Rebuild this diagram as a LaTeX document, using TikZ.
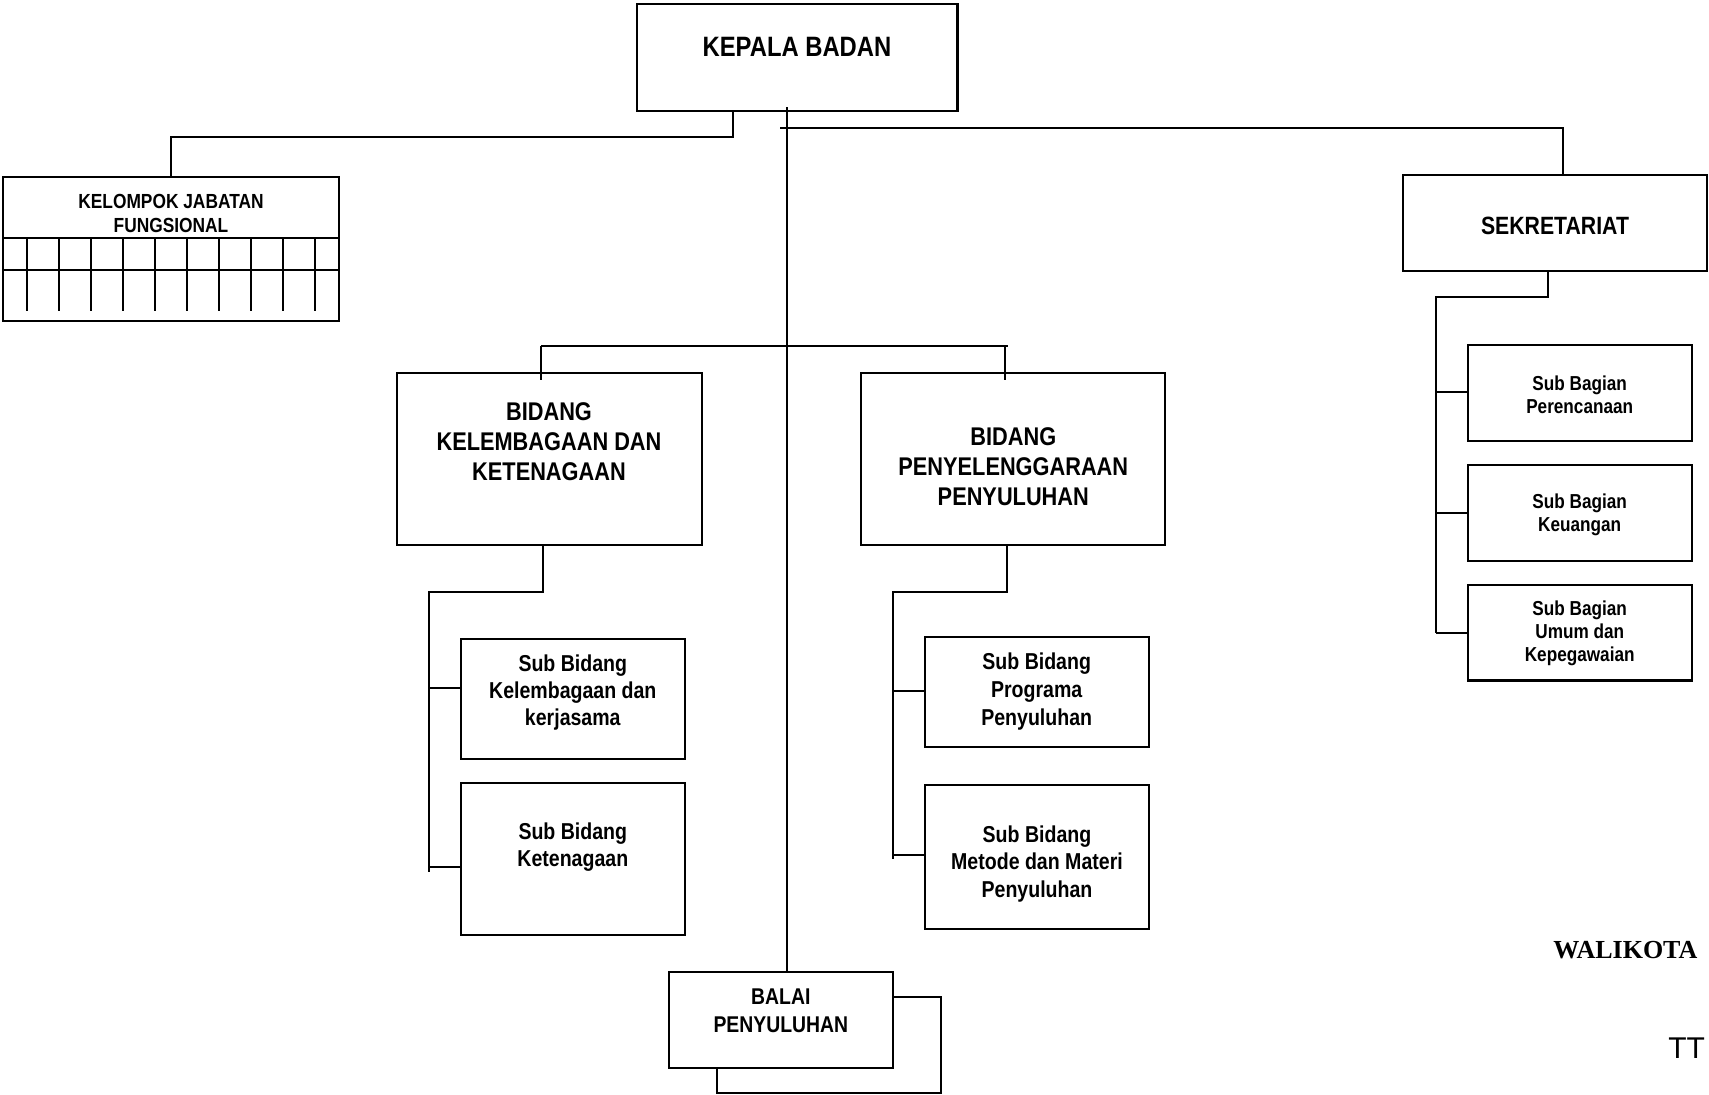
\documentclass[tikz,border=0pt]{standalone}
\usepackage{fontspec}
\newfontfamily\narrowfont{Liberation Sans}[FakeStretch=0.85]
\newfontfamily\walifont{Liberation Serif}
\newfontfamily\plainsansfont{Liberation Sans}
\newcommand\orgbox[5]{\node[orgbox, minimum width={0.5*(#4-#2)}, minimum height={0.5*(#5-#3)}] (#1) at ({(#2+#4)/2},{(#3+#5)/2}) {};}
\tikzset{
  orgbox/.style={draw, line width=1.1pt, rectangle, inner sep=0pt, outer sep=0pt},
  conn/.style={line width=1.1pt},
  lbl/.style 2 args={font=\narrowfont\bfseries\fontsize{#1}{#2}\selectfont, align=center, inner sep=0pt},
}
\begin{document}
\begin{tikzpicture}[x=0.5pt,y=-0.5pt]
\useasboundingbox (0,0) rectangle (1709,1094);

% boxes
\orgbox{kepala}{637}{4}{957.5}{110.7}
\orgbox{kjf}{3}{176.7}{339}{321}
\orgbox{sek}{1403}{175}{1707}{271}
\orgbox{bk}{396.7}{372.7}{701.7}{545}
\orgbox{bp}{861}{372.7}{1165}{545}
\orgbox{sbk1}{461}{639.3}{685}{759.3}
\orgbox{sbk2}{461}{783.3}{685}{935}
\orgbox{sbp1}{925}{636.7}{1149.3}{746.7}
\orgbox{sbp2}{925}{785}{1149.3}{929.3}
\orgbox{sbg1}{1468}{345}{1692}{440.7}
\orgbox{sbg2}{1468}{465.3}{1692}{560.7}
\orgbox{sbg3}{1468}{585}{1692}{680.5}
\orgbox{balai}{669}{972.3}{893.3}{1067.7}

% texts
\node[lbl={14}{16}] (kepalat) at (797,46.7) {KEPALA BADAN};
\node[lbl={10.2}{11.7}] (kjft) at (171,213.3) {KELOMPOK JABATAN\\FUNGSIONAL};
\node[lbl={12.5}{14}] (sekt) at (1555,226) {SEKRETARIAT};
\node[lbl={12.8}{15}] (bkt) at (549,441.5) {BIDANG\\KELEMBAGAAN DAN\\KETENAGAAN};
\node[lbl={12.8}{15}] (bpt) at (1013.3,466.5) {BIDANG\\PENYELENGGARAAN\\PENYULUHAN};
\node[lbl={11.5}{13.5}] (sbk1t) at (572.8,692.7) {Sub Bidang\\Kelembagaan dan\\kerjasama};
\node[lbl={11.5}{13.5}] (sbk2t) at (572.8,846.7) {Sub Bidang\\Ketenagaan};
\node[lbl={11.5}{13.8}] (sbp1t) at (1036.7,691.5) {Sub Bidang\\Programa\\Penyuluhan};
\node[lbl={11.5}{13.8}] (sbp2t) at (1037,864) {Sub Bidang\\Metode dan Materi\\Penyuluhan};
\node[lbl={10.1}{11.5}] (sbg1t) at (1579.7,395) {Sub Bagian\\Perencanaan};
\node[lbl={10.1}{11.5}] (sbg2t) at (1579.7,515) {Sub Bagian\\Keuangan};
\node[lbl={10.1}{11.5}] (sbg3t) at (1579.7,633) {Sub Bagian\\Umum dan\\Kepegawaian};
\node[lbl={11.4}{14.2}] (balait) at (780.8,1010.8) {BALAI\\PENYULUHAN};
\node[font=\walifont\bfseries\fontsize{13}{15}\selectfont, anchor=west, inner sep=0pt] (wali) at (1553,950) {WALIKOTA};
\node[font=\plainsansfont\fontsize{15}{17}\selectfont, anchor=west, inner sep=0pt] (tt) at (1668,1048) {TT};

% KJF grid
\draw[conn] (kjf.west |- 0,238.3) -- (kjf.east |- 0,238.3);
\draw[conn] (kjf.west |- 0,270) -- (kjf.east |- 0,270);
\foreach \i in {0,...,9} \draw[conn] ({26.7+32.04*\i},238.3) -- ++(0,72.4);

% connectors
\coordinate (kL) at (733,136.7);
\draw[conn] (kepala.south -| kL) -- (kL) -| (kjf.north);

\coordinate (mv) at (786.7,107.3);
\draw[conn] (mv) -- (mv |- balai.north);

\coordinate (s0) at (780,128.3);
\coordinate (s1) at (1563,128.3);
\draw[conn] (s0) -- (s1) -- (s1 |- sek.north);

\coordinate (b0) at (541,345.7);
\coordinate (b1) at (1008,345.7);
\coordinate (b2) at (1005,345.7);
\draw[conn] (b0) -- (b1);
\draw[conn] (b0) -- ([yshift=-3.5pt]b0 |- bk.north);
\draw[conn] (b2) -- ([yshift=-3.5pt]b2 |- bp.north);

\coordinate (ka) at (543.3,591.7);
\coordinate (kb) at (429,591.7);
\coordinate (kc) at (429,871.7);
\coordinate (k1) at (429,687.7);
\coordinate (k2) at (429,867.3);
\draw[conn] (bk.south -| ka) -- (ka) -- (kb) -- (kc);
\draw[conn] (k1) -- (k1 -| sbk1.west);
\draw[conn] (k2) -- (k2 -| sbk2.west);

\coordinate (pa) at (1006.7,591.7);
\coordinate (pb) at (893.3,591.7);
\coordinate (pc) at (893.3,859.3);
\coordinate (p1) at (893.3,691);
\coordinate (p2) at (893.3,855);
\draw[conn] (bp.south -| pa) -- (pa) -- (pb) -- (pc);
\draw[conn] (p1) -- (p1 -| sbp1.west);
\draw[conn] (p2) -- (p2 -| sbp2.west);

\coordinate (ga) at (1547.7,296.7);
\coordinate (gb) at (1435.7,296.7);
\coordinate (g1) at (1435.7,392);
\coordinate (g2) at (1435.7,513);
\coordinate (g3) at (1435.7,632.7);
\draw[conn] (sek.south -| ga) -- (ga) -- (gb) -- (g3);
\draw[conn] (g1) -- (g1 -| sbg1.west);
\draw[conn] (g2) -- (g2 -| sbg2.west);
\draw[conn] (g3) -- (g3 -| sbg3.west);

% balai shadow
\coordinate (sh1) at (941,996.7);
\coordinate (sh2) at (717.3,1092.7);
\draw[conn] (balai.east |- sh1) -- (sh1) |- (sh2) -- (sh2 |- balai.south);
\end{tikzpicture}
\end{document}
